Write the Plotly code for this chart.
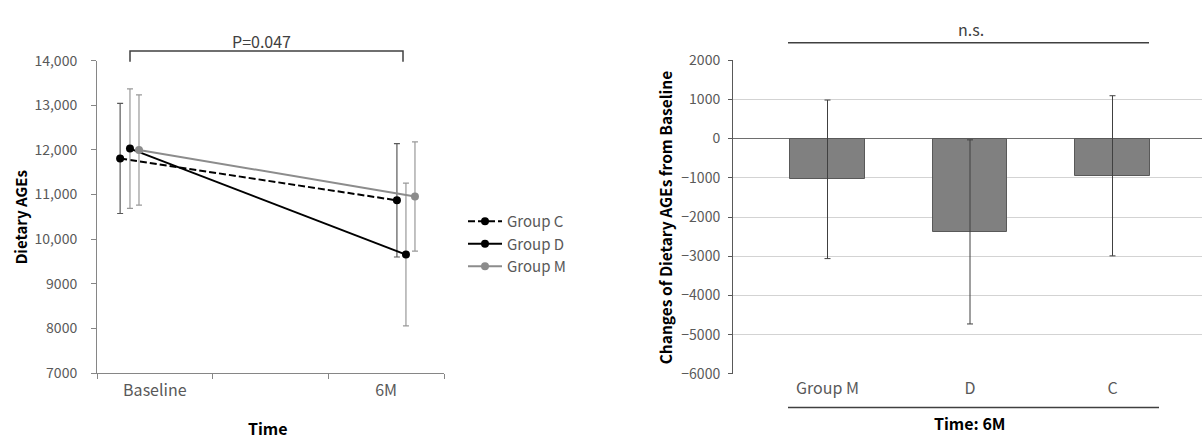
import plotly.graph_objects as go

# ---------------- data ----------------
time_labels = ["Baseline", "6M"]
group_c_mean = [11810, 10870]
group_c_sd = [1235, 1270]
group_d_mean = [12030, 9655]
group_d_sd = [1340, 1600]
group_m_mean = [12000, 10955]
group_m_sd = [1235, 1225]

bar_groups = ["Group M", "D", "C"]
bar_change = [-1040, -2380, -950]
bar_sd = [2020, 2345, 2040]

left_yticks = [7000, 8000, 9000, 10000, 11000, 12000, 13000, 14000]
left_yticktext = ["7000", "8000", "9000", "10,000", "11,000", "12,000", "13,000", "14,000"]
right_yticks = [-6000, -5000, -4000, -3000, -2000, -1000, 0, 1000, 2000]

# ---------------- layout helpers ----------------
W, H = 1202, 447
FONT = "Noto Sans CJK JP"
GRAY_TXT = "#595959"

def px(x):
    return x / W

def py(y):
    return 1 - y / H

# category centres on the left (numeric axis 0..3) and per-series offsets
cat_pos = [0.5, 2.5]
offsets = {"C": [-0.30, 0.093], "D": [-0.215, 0.171], "M": [-0.137, 0.249]}

fig = go.Figure()

series = [
    ("Group C", group_c_mean, group_c_sd, "C", "#000000", "7px,3px", "#595959"),
    ("Group D", group_d_mean, group_d_sd, "D", "#000000", "solid", "#999999"),
    ("Group M", group_m_mean, group_m_sd, "M", "#8c8c8c", "solid", "#999999"),
]
for name, mean, sd, key, col, dash, ecol in series:
    xs = [c + o for c, o in zip(cat_pos, offsets[key])]
    fig.add_trace(go.Scatter(
        x=xs, y=mean, name=name, mode="lines+markers",
        line=dict(color=col, width=2, dash=dash),
        marker=dict(color=col, size=8),
        error_y=dict(type="data", array=sd, visible=True, color=ecol,
                     thickness=1.2, width=3),
        xaxis="x", yaxis="y",
    ))

fig.add_trace(go.Bar(
    x=[0, 1, 2], y=bar_change, width=0.526,
    marker=dict(color="#808080", line=dict(color="#595959", width=1)),
    error_y=dict(type="data", array=bar_sd, visible=True, color="#404040",
                 thickness=1, width=3),
    xaxis="x2", yaxis="y2", showlegend=False,
))

# ---------------- axes ----------------
L_left, L_right, L_top, L_bot = 97, 444, 52, 379
R_left, R_top, R_bot = 733, 51.3, 380

fig.update_layout(
    width=W, height=H,
    margin=dict(l=0, r=0, t=0, b=0),
    paper_bgcolor="white", plot_bgcolor="white",
    font=dict(family=FONT, size=14, color=GRAY_TXT),
    xaxis=dict(
        domain=[px(L_left), px(L_right)], range=[0, 3],
        showgrid=False, zeroline=False,
        showline=True, linecolor="#868686", linewidth=1,
        tickvals=cat_pos, ticktext=time_labels, ticks="",
        tickfont=dict(size=16, color=GRAY_TXT), ticklabelstandoff=3,
        minor=dict(tickvals=[0, 1, 2, 3], ticks="outside", ticklen=5,
                   tickcolor="#868686", showgrid=False),
        anchor="y",
    ),
    yaxis=dict(
        domain=[py(L_bot), py(L_top)], range=[7000, 14000],
        showgrid=False, zeroline=False,
        showline=True, linecolor="#868686", linewidth=1,
        tickvals=left_yticks, ticktext=left_yticktext,
        ticks="outside", ticklen=5, tickcolor="#868686",
        tickfont=dict(size=14, color=GRAY_TXT), ticklabelstandoff=11,
        anchor="x",
    ),
    xaxis2=dict(
        domain=[px(R_left), 1.0],
        range=[(R_left - 827.5) / 142.5, (W - 827.5) / 142.5],
        showgrid=False, zeroline=False, showline=False,
        tickvals=[0, 1, 2], ticktext=bar_groups, ticks="",
        tickfont=dict(size=16, color=GRAY_TXT), ticklabelstandoff=3,
        anchor="y2",
    ),
    yaxis2=dict(
        domain=[py(R_bot), py(R_top)], range=[-6000, 2000],
        tickvals=right_yticks,
        showgrid=True, gridcolor="#d3d3d3", gridwidth=1,
        zeroline=True, zerolinecolor="#6e6e6e", zerolinewidth=1,
        showline=True, linecolor="#595959", linewidth=1,
        ticks="outside", ticklen=4, tickcolor="#595959",
        tickfont=dict(size=14, color=GRAY_TXT), ticklabelstandoff=5,
        anchor="x2",
    ),
    legend=dict(
        x=px(463), y=py(244), xanchor="left", yanchor="middle",
        font=dict(size=15, color=GRAY_TXT), bgcolor="rgba(0,0,0,0)",
        tracegroupgap=0, itemwidth=34,
    ),
    bargap=0,
)

# ---------------- annotations & shapes ----------------
ann = [
    dict(x=px(261), y=py(31), text="P=0.047", font=dict(size=16, color="#404040")),
    dict(x=px(268), y=py(437), text="<b>Time</b>", font=dict(size=16, color="#000000")),
    dict(x=px(20), y=py(216), text="<b>Dietary AGEs</b>", textangle=-90,
         font=dict(size=15, color="#000000")),
    dict(x=px(665), y=py(216), text="<b>Changes of Dietary AGEs from Baseline</b>",
         textangle=-90, font=dict(size=15.5, color="#000000")),
    dict(x=px(971), y=py(19), text="n.s.", font=dict(size=16, color="#404040")),
    dict(x=px(970), y=py(431), text="<b>Time: 6M</b>", font=dict(size=16, color="#000000")),
]
for a in ann:
    a.update(xref="paper", yref="paper", showarrow=False,
             xanchor="center", yanchor="middle")
    fig.add_annotation(**a)

line_style = dict(color="#404040", width=1.5)
# P bracket
fig.add_shape(type="path", xref="paper", yref="paper",
              path=f"M {px(130)},{py(53)} L {px(130)},{py(42)} L {px(403)},{py(42)} L {px(403)},{py(53)}",
              line=line_style)
# n.s. line
fig.add_shape(type="line", xref="paper", yref="paper",
              x0=px(788), x1=px(1149), y0=py(33.3), y1=py(33.3), line=line_style)
# bottom line over "Time: 6M"
fig.add_shape(type="line", xref="paper", yref="paper",
              x0=px(788), x1=px(1159), y0=py(415), y1=py(415), line=line_style)

fig.write_html(
    "out.html",
    config={"displayModeBar": False},
    post_script="document.body.style.margin='0';document.body.style.overflow='hidden';",
)
